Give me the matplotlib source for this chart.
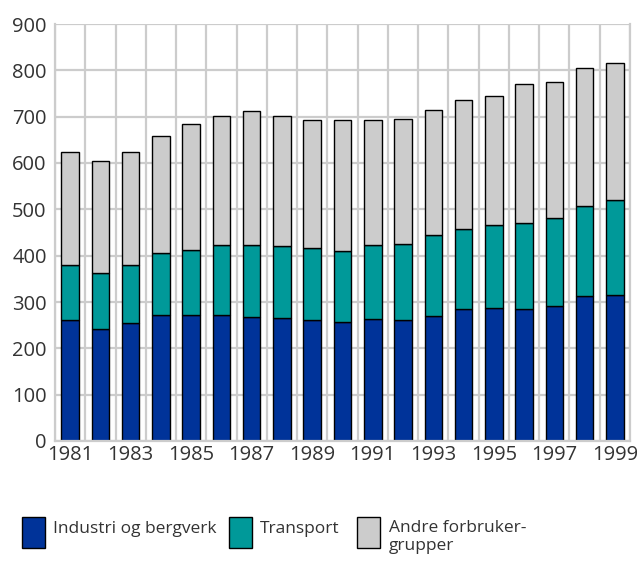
import numpy as np
import matplotlib.pyplot as plt
from matplotlib.patches import Rectangle
from matplotlib.ticker import MultipleLocator, FixedLocator

plt.rcParams["font.family"] = ["Open Sans", "DejaVu Sans"]

years = list(range(1981, 2000))
industri = [262, 242, 254, 272, 272, 272, 267, 265, 261, 257, 263, 261, 270, 284, 288, 284, 292, 313, 315]
transport = [118, 121, 126, 133, 141, 152, 157, 156, 155, 152, 161, 165, 174, 174, 179, 187, 189, 195, 205]
andre = [243, 242, 243, 253, 271, 277, 288, 280, 277, 283, 269, 268, 270, 278, 278, 300, 294, 298, 295]

labels = ["Industri og bergverk", "Transport", "Andre forbruker-\ngrupper"]
colors = ["#003399", "#009999", "#cccccc"]

W, H = 637, 561
fig = plt.figure(figsize=(W / 100, H / 100), dpi=100)
ax = fig.add_axes([55 / W, 1 - 441 / H, 575 / W, 417 / H])

x = np.arange(len(years))
w = 0.58
ax.bar(x, industri, w, color=colors[0], edgecolor="black", linewidth=1)
bottom2 = np.array(industri)
ax.bar(x, transport, w, bottom=bottom2, color=colors[1], edgecolor="black", linewidth=1)
bottom3 = bottom2 + np.array(transport)
ax.bar(x, andre, w, bottom=bottom3, color=colors[2], edgecolor="black", linewidth=1)

ax.set_xlim(-0.5, len(years) - 0.5)
ax.set_ylim(0, 900)
ax.yaxis.set_major_locator(MultipleLocator(100))
ax.set_xticks(x[::2])
ax.set_xticklabels([str(y) for y in years[::2]])
ax.xaxis.set_minor_locator(FixedLocator(np.arange(-0.5, len(years), 1)))

ax.set_axisbelow(True)
ax.grid(axis="y", which="major", color="#cccccc", linewidth=1.6)
ax.grid(axis="x", which="minor", color="#cccccc", linewidth=1.6)
ax.grid(axis="x", which="major", visible=False)

ax.spines["top"].set_visible(False)
for s in ["left", "bottom", "right"]:
    ax.spines[s].set_color("#cccccc")
    ax.spines[s].set_linewidth(1.6)

ax.tick_params(axis="both", which="both", length=0, labelsize=14.5, colors="#333333")
ax.tick_params(axis="y", pad=6)
ax.tick_params(axis="x", pad=3)

# legend drawn by hand to match the original layout
leg_x = [22, 229, 357]
for lx, c, lab in zip(leg_x, colors, labels):
    fig.add_artist(Rectangle((lx / W, 1 - 548 / H), 23 / W, 31 / H,
                             transform=fig.transFigure, facecolor=c,
                             edgecolor="black", linewidth=1))
    if "\n" in lab:
        fig.text((lx + 32) / W, 1 - 520 / H, lab, fontsize=12.5, color="#333333",
                 va="top", ha="left", linespacing=1.2)
    else:
        fig.text((lx + 31) / W, 1 - 529 / H, lab, fontsize=12.5, color="#333333",
                 va="center", ha="left")

fig.savefig("out.png", dpi=100)
